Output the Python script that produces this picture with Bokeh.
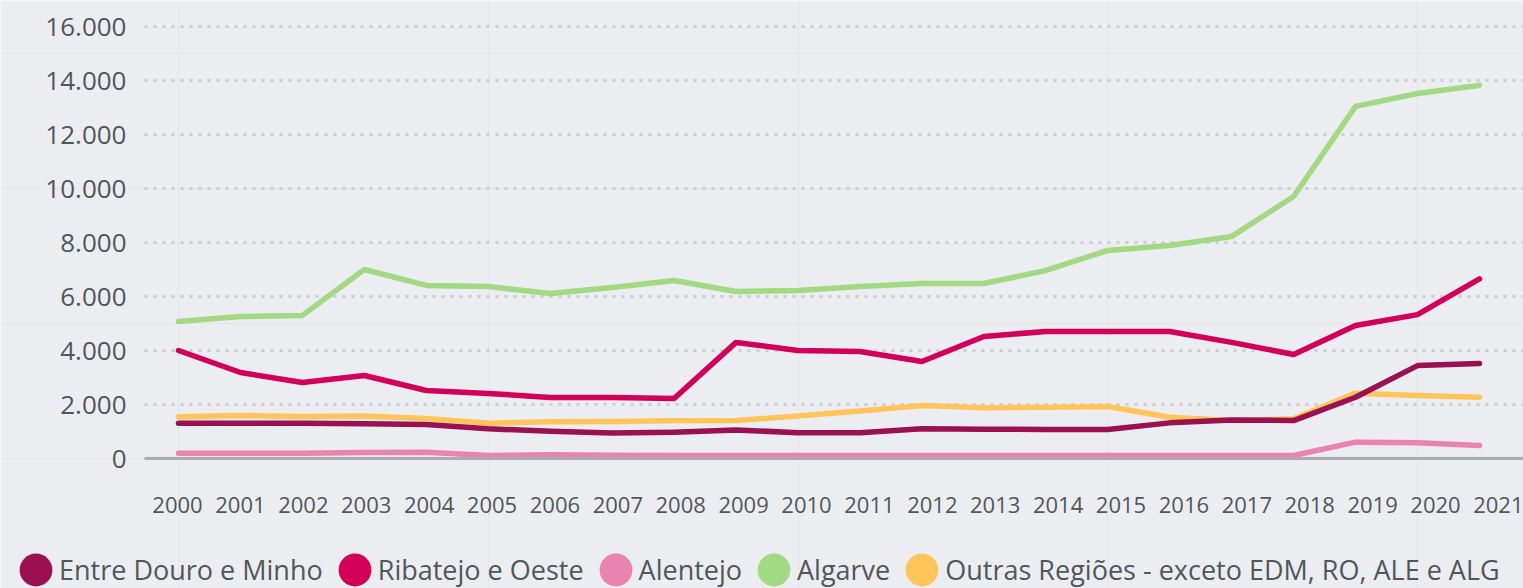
from bokeh.plotting import figure
from bokeh.models import Range1d, LinearAxis, FixedTicker, Legend, LegendItem, Grid
from bokeh.embed import file_html
from bokeh.resources import INLINE

years = list(range(2000, 2022))
year_labels = [str(y) for y in years]

entre_douro_minho = [1310, 1310, 1310, 1285, 1260, 1100, 1010, 940, 975, 1060, 950, 950,
                     1100, 1085, 1075, 1075, 1320, 1430, 1405, 2270, 3440, 3520]
ribatejo_oeste = [4000, 3185, 2815, 3075, 2520, 2410, 2260, 2260, 2220, 4300, 4000, 3965,
                  3595, 4520, 4705, 4705, 4705, 4300, 3850, 4925, 5330, 6650]
alentejo = [195, 195, 195, 220, 235, 110, 135, 120, 115, 115, 110, 110,
            110, 110, 110, 115, 110, 110, 110, 605, 580, 480]
algarve = [5070, 5260, 5300, 7000, 6410, 6370, 6110, 6335, 6595, 6185, 6225, 6370,
           6480, 6480, 6965, 7705, 7890, 8225, 9705, 13040, 13520, 13820]
outras = [1550, 1590, 1555, 1575, 1480, 1310, 1360, 1370, 1395, 1405, 1570, 1755,
          1965, 1880, 1900, 1925, 1530, 1405, 1470, 2420, 2335, 2270]

series_names = ["Entre Douro e Minho", "Ribatejo e Oeste", "Alentejo", "Algarve",
                "Outras Regiões - exceto EDM, RO, ALE e ALG"]
series_colors = ["#9A1050", "#D2005A", "#E884AF", "#A3D982", "#FFC55A"]

y_ticks = [0, 2000, 4000, 6000, 8000, 10000, 12000, 14000, 16000]
y_tick_labels = ["0", "2.000", "4.000", "6.000", "8.000", "10.000", "12.000", "14.000", "16.000"]

BG = "#ECEDF1"
TXT = "#50575A"
FONT = "Open Sans"

W, H = 1523, 588
PLOT_LEFT = 144      # pixel where the plotting area starts
ZERO_Y = 458         # pixel row of value 0
px_per_unit_y = 27.0 / 1000.0
px_per_year = 61.95
lbl_px_per_year = 62.9
first_point_px = 178
first_label_px = 177

x0 = 2000 - first_point_px / px_per_year
x_rng = Range1d(x0, x0 + W / px_per_year)
y_rng = Range1d(-(H - ZERO_Y) / px_per_unit_y, ZERO_Y / px_per_unit_y)
l0 = 2000 - first_label_px / lbl_px_per_year
lbl_rng = Range1d(l0, l0 + W / lbl_px_per_year)
x_plot_left = x0 + PLOT_LEFT / px_per_year
l_plot_left = l0 + PLOT_LEFT / lbl_px_per_year

p = figure(width=W, height=H, output_backend="svg", toolbar_location=None,
           x_range=x_rng, y_range=y_rng, x_axis_location=None, y_axis_location=None,
           min_border=0)
p.background_fill_color = BG
p.border_fill_color = BG
p.outline_line_color = None
p.extra_x_ranges = {"lbl": lbl_rng}

grid = Grid(dimension=1, ticker=FixedTicker(ticks=y_ticks[1:]),
            cross_bounds=(x_plot_left, x_rng.end),
            grid_line_color="#CCCED3", grid_line_dash="3 6", grid_line_width=3,
            grid_line_cap="butt")
p.add_layout(grid)

yax = LinearAxis(ticker=FixedTicker(ticks=y_ticks), fixed_location=x_plot_left,
                 major_label_overrides={t: s for t, s in zip(y_ticks, y_tick_labels)})
yax.axis_line_color = None
yax.major_tick_line_color = None
yax.minor_tick_line_color = None
yax.major_label_standoff = 12
yax.major_label_text_font = FONT
yax.major_label_text_font_size = "26px"
yax.major_label_text_color = TXT
p.add_layout(yax, "left")

xax = LinearAxis(x_range_name="lbl", ticker=FixedTicker(ticks=years), fixed_location=0,
                 bounds=(l_plot_left, lbl_rng.end),
                 major_label_overrides={y: s for y, s in zip(years, year_labels)})
xax.axis_line_color = "#ABABAB"
xax.axis_line_width = 3
xax.major_tick_line_color = None
xax.minor_tick_line_color = None
xax.major_label_standoff = 32
xax.major_label_text_font = FONT
xax.major_label_text_font_size = "22px"
xax.major_label_text_color = TXT
p.add_layout(xax, "below")

data = [entre_douro_minho, ribatejo_oeste, alentejo, algarve, outras]
draw_order = [3, 1, 4, 2, 0]
for i in draw_order:
    p.line(years, data[i], line_color=series_colors[i], line_width=5.5,
           line_cap="round", line_join="round")

# legend-only renderers (NaN position, so nothing is drawn in the plot);
# an ellipse's legend swatch is a circle of 0.8 x the glyph box
nan = float("nan")
items = []
for name, col in zip(series_names, series_colors):
    r = p.ellipse(x=[nan], y=[nan], width=33, height=33, width_units="screen",
                  height_units="screen", fill_color=col, line_color=None)
    items.append(LegendItem(label=name, renderers=[r]))

legend = Legend(items=items, orientation="horizontal", location=(15, -2),
                glyph_width=41, glyph_height=41, label_standoff=3, spacing=11,
                padding=0, margin=0, border_line_color=None,
                background_fill_alpha=0, label_text_font=FONT,
                label_text_font_size="27px", label_text_color=TXT)
p.add_layout(legend)

open("out.html", "w").write(file_html(p, INLINE))
